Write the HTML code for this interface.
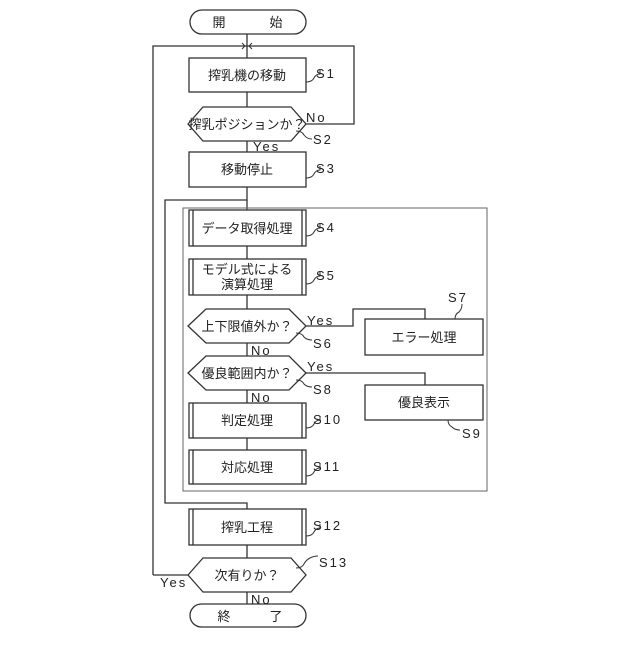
<!DOCTYPE html>
<html><head><meta charset="utf-8"><style>
html,body{margin:0;padding:0;background:#fff;}
svg text{font-family:"Liberation Sans","Noto Sans CJK JP",sans-serif;fill:#222;}
</style></head><body>
<svg width="640" height="640" viewBox="0 0 640 640" xmlns="http://www.w3.org/2000/svg">
<g fill="none" stroke="#333" stroke-width="1.3">
<!-- start -->
<rect x="190" y="10" width="116" height="24" rx="12"/>
<line x1="247" y1="34" x2="247" y2="58"/>
<!-- top loop -->
<polyline points="153,575 153,46 354,46 354,124 306,124"/>
<!-- S1 -->
<rect x="189" y="58" width="117" height="34"/>
<line x1="247" y1="92" x2="247" y2="107"/>
<polygon points="188,124 203,107 291,107 306,124 291,141 203,141"/>
<line x1="247" y1="141" x2="247" y2="152"/>
<rect x="189" y="152" width="117" height="35"/>
<polyline points="247,187 247,200 165,200 165,503 247,503 247,509"/>
<line x1="247" y1="200" x2="247" y2="210"/>
<!-- dashed-ish box -->
<rect x="183" y="208" width="304" height="283" stroke-width="1" stroke="#666"/>
<!-- S4 -->
<rect x="189" y="210" width="117" height="36"/><line x1="193" y1="210" x2="193" y2="246"/><line x1="302" y1="210" x2="302" y2="246"/>
<line x1="247" y1="246" x2="247" y2="259"/>
<rect x="189" y="259" width="117" height="36"/><line x1="193" y1="259" x2="193" y2="295"/><line x1="302" y1="259" x2="302" y2="295"/>
<line x1="247" y1="295" x2="247" y2="309"/>
<polygon points="188,326 206,309 289,309 306,326 289,343 206,343"/>
<polyline points="306,326 353,326 353,309 425,309 425,319"/>
<rect x="365" y="319" width="118" height="36"/>
<line x1="247" y1="343" x2="247" y2="356"/>
<polygon points="188,373 206,356 289,356 306,373 289,390 206,390"/>
<polyline points="306,373 425,373 425,385"/>
<rect x="365" y="385" width="118" height="35"/>
<line x1="247" y1="390" x2="247" y2="403"/>
<rect x="189" y="403" width="117" height="35"/><line x1="193" y1="403" x2="193" y2="438"/><line x1="302" y1="403" x2="302" y2="438"/>
<line x1="247" y1="438" x2="247" y2="450"/>
<rect x="189" y="450" width="117" height="34"/><line x1="193" y1="450" x2="193" y2="484"/><line x1="302" y1="450" x2="302" y2="484"/>
<!-- S12 -->
<rect x="189" y="509" width="117" height="36"/><line x1="193" y1="509" x2="193" y2="545"/><line x1="302" y1="509" x2="302" y2="545"/>
<line x1="247" y1="545" x2="247" y2="558"/>
<polygon points="188,575 203,558 291,558 306,575 291,592 203,592"/>
<line x1="153" y1="575" x2="188" y2="575"/>
<line x1="247" y1="592" x2="247" y2="604"/>
<rect x="190" y="604" width="116" height="23" rx="11.5"/>
<!-- squiggle leaders -->
<path d="M306,82 q6,0 8,-4 q2,-4 6,-4 l0,-4" stroke-width="1"/>
<path d="M296,131 q6,0 8,4 q3,4 8,4" stroke-width="1"/>
<path d="M306,178 q6,0 8,-4 q2,-4 6,-4 l0,-4" stroke-width="1"/>
<path d="M306,236 q6,0 8,-4 q2,-4 6,-4 l0,-4" stroke-width="1"/>
<path d="M306,284 q6,0 8,-4 q2,-4 6,-4 l0,-4" stroke-width="1"/>
<path d="M296,333 q6,0 8,4 q3,3 8,3" stroke-width="1"/>
<path d="M296,380 q6,0 8,4 q3,3 8,3" stroke-width="1"/>
<path d="M455,319 q0,-5 4,-7 q3,-3 3,-8" stroke-width="1"/>
<path d="M448,420 q0,5 4,7 q3,3 8,3" stroke-width="1"/>
<path d="M306,428 q6,0 8,-4 q2,-4 6,-4 l0,-4" stroke-width="1"/>
<path d="M306,476 q6,0 8,-4 q2,-4 6,-4 l0,-4" stroke-width="1"/>
<path d="M306,536 q6,0 8,-4 q2,-4 6,-4 l0,-4" stroke-width="1"/>
<path d="M296,568 q6,0 8,-4 q2,-4 6,-6 q4,-2 8,-2" stroke-width="1"/>
</g>
<!-- arrow marks at top -->
<path d="M242,43 l3,3 l-3,3 M252,43 l-3,3 l3,3" stroke="#333" fill="none" stroke-width="1"/>
<g font-size="13" text-anchor="middle">
<text x="219" y="27">開</text><text x="276" y="27">始</text>
<text x="247" y="80">搾乳機の移動</text>
<text x="247" y="129">搾乳ポジションか？</text>
<text x="247" y="174">移動停止</text>
<text x="247" y="233">データ取得処理</text>
<text x="247" y="274">モデル式による</text>
<text x="247" y="289">演算処理</text>
<text x="247" y="331">上下限値外か？</text>
<text x="424" y="342">エラー処理</text>
<text x="247" y="378">優良範囲内か？</text>
<text x="424" y="407">優良表示</text>
<text x="247" y="425">判定処理</text>
<text x="247" y="472">対応処理</text>
<text x="247" y="532">搾乳工程</text>
<text x="247" y="580">次有りか？</text>
<text x="224" y="621">終</text><text x="276" y="621">了</text>
</g>
<g font-size="13" letter-spacing="2">
<text x="316" y="78">S1</text>
<text x="313" y="144">S2</text>
<text x="316" y="173">S3</text>
<text x="316" y="232">S4</text>
<text x="316" y="280">S5</text>
<text x="313" y="348">S6</text>
<text x="448" y="302">S7</text>
<text x="313" y="394">S8</text>
<text x="462" y="438">S9</text>
<text x="313" y="424">S10</text>
<text x="313" y="471">S11</text>
<text x="313" y="530">S12</text>
<text x="319" y="567">S13</text>
<text x="306" y="122">No</text>
<text x="253" y="151">Yes</text>
<text x="307" y="325">Yes</text>
<text x="251" y="355">No</text>
<text x="307" y="371">Yes</text>
<text x="251" y="402">No</text>
<text x="160" y="587">Yes</text>
<text x="251" y="604">No</text>
</g>
</svg>
</body></html>
